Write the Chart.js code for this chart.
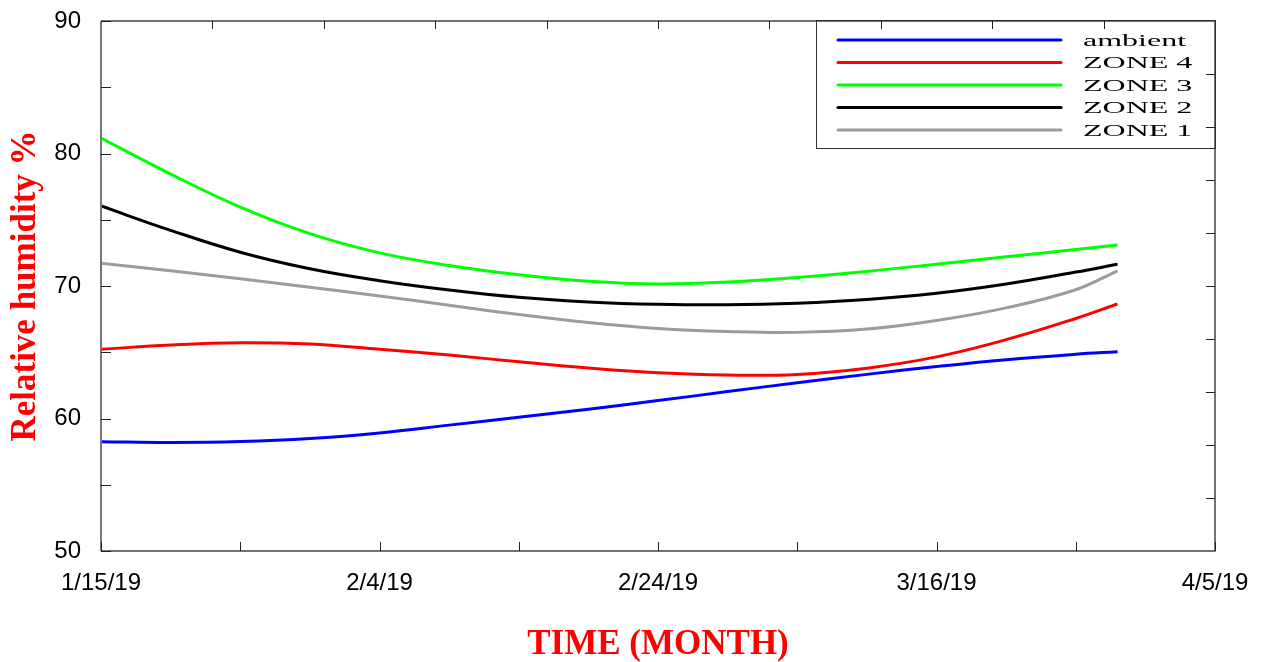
<!DOCTYPE html>
<html>
<head>
<meta charset="utf-8">
<script src="https://cdn.jsdelivr.net/npm/chart.js@4/dist/chart.umd.min.js"></script>
<style>
  html, body { margin: 0; padding: 0; background: #ffffff; }
  canvas { display: block; }
</style>
</head>
<body>
<canvas id="c" width="1261" height="662"></canvas>
<script>
// ---- data (days since 1/15/19) ----
const days    = [0, 5, 10, 15, 20, 25, 30, 35, 40, 45, 50, 55, 60, 65, 70, 73];
const ambient = [58.25, 58.19, 58.26, 58.49, 58.91, 59.5, 60.1, 60.7, 61.35, 62.03, 62.7, 63.33, 63.92, 64.44, 64.85, 65.04];
const zone4   = [65.22, 65.55, 65.72, 65.62, 65.22, 64.79, 64.28, 63.81, 63.45, 63.28, 63.33, 63.8, 64.65, 65.95, 67.55, 68.64];
const zone3   = [81.17, 78.45, 75.95, 73.95, 72.5, 71.55, 70.85, 70.35, 70.15, 70.3, 70.65, 71.1, 71.65, 72.2, 72.75, 73.09];
const zone2   = [76.04, 74.2, 72.55, 71.3, 70.4, 69.7, 69.15, 68.8, 68.62, 68.58, 68.7, 68.98, 69.45, 70.15, 71.05, 71.64];
const zone1   = [71.71, 71.15, 70.55, 69.9, 69.25, 68.55, 67.85, 67.25, 66.8, 66.57, 66.5, 66.75, 67.4, 68.35, 69.72, 71.15];

const seriesNames = ['ambient', 'ZONE 4', 'ZONE 3', 'ZONE 2', 'ZONE 1'];
const xTickLabels = ['1/15/19', '2/4/19', '2/24/19', '3/16/19', '4/5/19'];
const xTopTicks   = [8, 16, 24, 32, 40, 48, 56, 64, 72];
const yRightTicks = [54, 58, 62, 66, 70, 74, 78, 82, 86];

const colors = ['#0000ff', '#ff0000', '#00ff00', '#000000', '#9c9c9c'];
const seriesValues = [ambient, zone4, zone3, zone2, zone1];

const datasets = seriesValues.map((vals, i) => ({
  label: seriesNames[i],
  data: days.map((d, k) => ({ x: d, y: vals[k] })),
  borderColor: colors[i],
  backgroundColor: colors[i],
  borderWidth: 3,
  pointRadius: 0,
  tension: 0.4,
  fill: false
}));

// frame, inward ticks and in-plot legend
const framePlugin = {
  id: 'frame',
  afterDatasetsDraw(chart) {
    const { ctx, chartArea: a, scales: { x, y } } = chart;
    ctx.save();
    ctx.lineWidth = 1.5;
    ctx.strokeStyle = '#444';
    ctx.beginPath();
    ctx.moveTo(a.left, a.top); ctx.lineTo(a.right, a.top);
    ctx.lineTo(a.right, a.bottom); ctx.lineTo(a.left, a.bottom);
    ctx.stroke();
    ctx.lineWidth = 2;
    ctx.strokeStyle = '#777';
    ctx.beginPath();
    ctx.moveTo(a.left, a.top); ctx.lineTo(a.left, a.bottom);
    ctx.stroke();

    ctx.lineWidth = 1;
    ctx.strokeStyle = '#222';
    ctx.beginPath();
    x.ticks.forEach(t => {
      const px = Math.round(x.getPixelForValue(t.value)) + 0.5;
      ctx.moveTo(px, a.bottom); ctx.lineTo(px, a.bottom - 9);
    });
    y.ticks.forEach(t => {
      const py = Math.round(y.getPixelForValue(t.value)) + 0.5;
      ctx.moveTo(a.left, py); ctx.lineTo(a.left + 10, py);
    });
    xTopTicks.forEach(v => {
      const px = Math.round(x.getPixelForValue(v)) + 0.5;
      ctx.moveTo(px, a.top); ctx.lineTo(px, a.top + 8);
    });
    yRightTicks.forEach(v => {
      const py = Math.round(y.getPixelForValue(v)) + 0.5;
      ctx.moveTo(a.right, py); ctx.lineTo(a.right - 9, py);
    });
    ctx.stroke();

    // legend
    const bw = 399, bh = 128;
    const bx = a.right - bw, by = a.top - 1;
    ctx.lineWidth = 1;
    ctx.strokeStyle = '#333';
    ctx.strokeRect(Math.round(bx) + 0.5, Math.round(by) + 0.5, bw, bh);
    ctx.font = '16px "Liberation Serif", "Times New Roman", serif';
    ctx.textBaseline = 'middle';
    ctx.textAlign = 'left';
    chart.data.datasets.forEach((ds, i) => {
      const ly = by + 20 + i * 22.5;
      ctx.strokeStyle = ds.borderColor;
      ctx.lineWidth = 3;
      ctx.lineCap = 'round';
      ctx.beginPath();
      ctx.moveTo(bx + 22, ly); ctx.lineTo(bx + 245, ly);
      ctx.stroke();
      ctx.fillStyle = '#000';
      ctx.save();
      ctx.translate(bx + 267, ly + 1.5);
      ctx.scale(2.0, 1);
      ctx.fillText(ds.label, 0, 0);
      ctx.restore();
    });
    ctx.restore();
  }
};

new Chart(document.getElementById('c'), {
  type: 'line',
  data: { datasets },
  options: {
    responsive: false,
    animation: false,
    layout: { padding: { top: 21, right: 46, left: 0, bottom: 0 } },
    plugins: { legend: { display: false }, tooltip: { enabled: false } },
    scales: {
      x: {
        type: 'linear',
        min: 0, max: 80,
        grid: { display: false, drawTicks: false },
        border: { display: false },
        afterFit(scale) { scale.height = 111; scale.paddingLeft = 0; scale.paddingRight = 0; },
        ticks: {
          stepSize: 10,
          padding: 18,
          maxRotation: 0,
          autoSkip: false,
          color: '#000',
          font: { family: '"Liberation Sans", Arial, sans-serif', size: 24 },
          callback: (v) => (v % 20 === 0 ? xTickLabels[v / 20] : '')
        },
        title: {
          display: true,
          text: 'TIME (MONTH)',
          color: '#ff0000',
          padding: { top: 0, bottom: 0 },
          font: { family: '"Liberation Serif", "Times New Roman", serif', size: 35, weight: 'bold', lineHeight: 1.0 }
        }
      },
      y: {
        min: 50, max: 90,
        grid: { display: false, drawTicks: false },
        border: { display: false },
        afterFit(scale) { scale.width = 101; scale.paddingTop = 0; scale.paddingBottom = 0; },
        ticks: {
          stepSize: 5,
          padding: 20,
          color: '#000',
          font: { family: '"Liberation Sans", Arial, sans-serif', size: 24 },
          callback: (v) => (v % 10 === 0 ? String(v) : '')
        },
        title: {
          display: true,
          text: 'Relative humidity %',
          color: '#ff0000',
          padding: { top: 8, bottom: 0 },
          font: { family: '"Liberation Serif", "Times New Roman", serif', size: 35, weight: 'bold', lineHeight: 1.0 }
        }
      }
    }
  },
  plugins: [framePlugin]
});
</script>
</body>
</html>
